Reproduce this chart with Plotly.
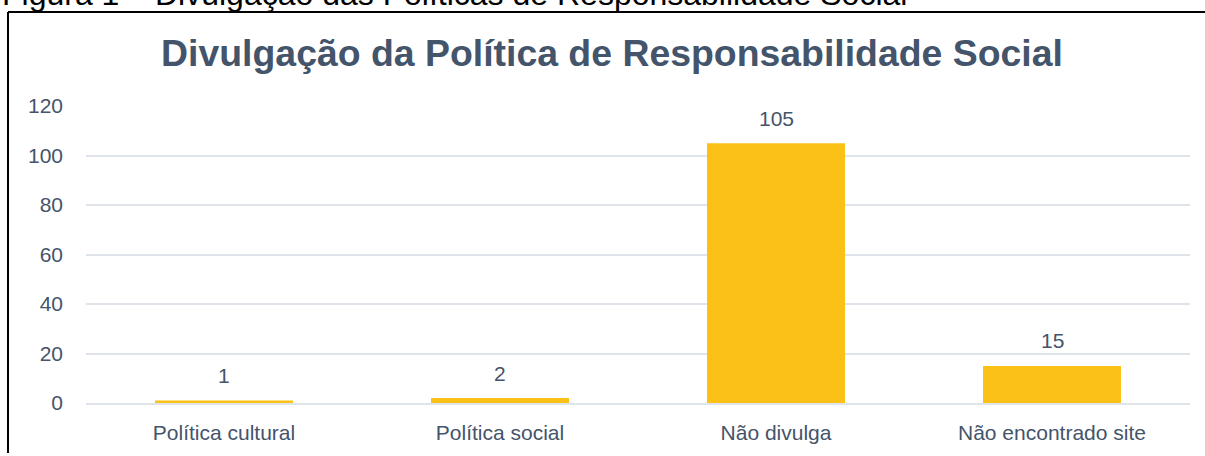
import plotly.graph_objects as go

categories = ["Política cultural", "Política social", "Não divulga", "Não encontrado site"]
values = [1, 2, 105, 15]
y_ticks = [0, 20, 40, 60, 80, 100, 120]

title_text = "Divulgação da Política de Responsabilidade Social"
caption_text = "Figura 1 – Divulgação das Políticas de Responsabilidade Social"

W, H = 1205, 456
ML, MR, MT, MB = 86, 15, 106, 47
PW, PH = W - ML - MR, H - MT - MB

def px_x(p):
    return (p - ML) / PW

def px_y(p):
    return (H - MB - p) / PH

text_color = "#44546A"
font_family = "Liberation Sans, Arial, sans-serif"

fig = go.Figure()
fig.add_trace(go.Bar(
    x=categories, y=values, width=0.5,
    marker=dict(color="#FBC117", line=dict(width=0)),
    hoverinfo="skip",
))

for c, v in zip(categories, values):
    fig.add_annotation(x=c, y=v, text=str(v), showarrow=False, yshift=25,
                       font=dict(size=21, color=text_color, family=font_family))

# Caption partially cut at top of page
fig.add_annotation(xref="paper", yref="paper", x=px_x(0), y=px_y(-8), xanchor="left",
                   yanchor="middle", text=caption_text, showarrow=False,
                   font=dict(size=32, color="#000000", family=font_family))

# Border lines (top and left)
fig.add_shape(type="line", xref="paper", yref="paper", x0=px_x(8), x1=px_x(1210),
              y0=px_y(10), y1=px_y(10), line=dict(color="#000000", width=2))
fig.add_shape(type="line", xref="paper", yref="paper", x0=px_x(8), x1=px_x(8),
              y0=px_y(10), y1=px_y(460), line=dict(color="#000000", width=2))

fig.update_layout(
    width=W, height=H,
    margin=dict(l=ML, r=MR, t=MT, b=MB, pad=0),
    paper_bgcolor="#FFFFFF", plot_bgcolor="#FFFFFF",
    showlegend=False,
    title=dict(text="<b>" + title_text + "</b>", x=612 / W, xanchor="center",
               y=1 - 53 / H, yanchor="middle", yref="container",
               font=dict(size=37.4, color=text_color, family=font_family)),
    font=dict(family=font_family, color=text_color, size=21),
    bargap=0.5,
)
fig.update_yaxes(range=[0, 120], tickvals=y_ticks, showgrid=True, gridcolor="#DFE3EA",
                 gridwidth=1.5, zeroline=False, showline=False, ticks="",
                 ticklabelstandoff=22, tickfont=dict(size=21, color=text_color))
fig.update_xaxes(showline=True, linecolor="#DFE3EA", linewidth=1.5, ticks="",
                 tickfont=dict(size=21, color=text_color), ticklabelstandoff=10)

fig.write_html("out.html")
